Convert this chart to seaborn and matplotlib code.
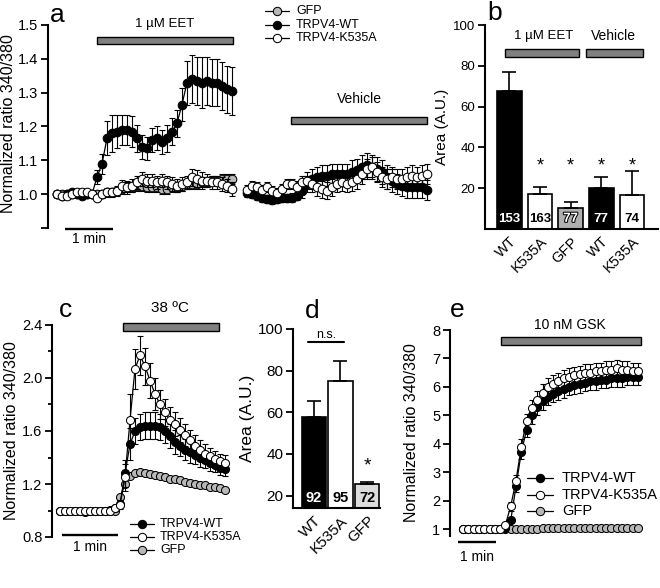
import numpy as np
import matplotlib
matplotlib.use('Agg')
import matplotlib.pyplot as plt
import seaborn as sns
from matplotlib.patches import Rectangle
import matplotlib.patheffects as pe

sns.set_style('ticks', {'axes.edgecolor': 'black', 'xtick.color': 'black', 'ytick.color': 'black',
                        'text.color': 'black', 'axes.labelcolor': 'black'})
plt.rcParams['font.family'] = ['Liberation Sans', 'DejaVu Sans']

GRAY = '#b8b8b8'

# ---------------- data ----------------
# a: 1 uM EET recording (36 frames)
a_eet_wt = [1.0, 0.995, 1.0, 1.005, 1.0, 0.995, 1.0, 1.0, 1.05, 1.09, 1.165, 1.18, 1.185, 1.19, 1.19, 1.185,
            1.165, 1.14, 1.135, 1.16, 1.165, 1.155, 1.165, 1.185, 1.21, 1.265, 1.33, 1.34, 1.335, 1.33, 1.335,
            1.33, 1.33, 1.32, 1.31, 1.305]
a_eet_wt_err = [0.006, 0.006, 0.006, 0.006, 0.006, 0.006, 0.006, 0.006, 0.02, 0.03, 0.05, 0.055, 0.05, 0.045,
                0.045, 0.045, 0.04, 0.035, 0.035, 0.035, 0.035, 0.035, 0.04, 0.04, 0.04, 0.05, 0.065, 0.07,
                0.07, 0.075, 0.07, 0.07, 0.07, 0.07, 0.07, 0.07]
a_eet_k535a = [1.0, 0.995, 0.995, 1.0, 1.005, 1.005, 1.005, 1.0, 0.99, 1.0, 1.005, 1.005, 1.01, 1.025, 1.02,
               1.025, 1.035, 1.045, 1.04, 1.04, 1.035, 1.04, 1.035, 1.03, 1.025, 1.03, 1.035, 1.05, 1.045,
               1.04, 1.04, 1.035, 1.035, 1.03, 1.025, 1.015]
a_eet_k535a_err = [0.008, 0.008, 0.008, 0.008, 0.008, 0.008, 0.008, 0.008, 0.01, 0.01, 0.012, 0.012, 0.015,
                   0.018, 0.02, 0.02, 0.02, 0.02, 0.02, 0.02, 0.02, 0.02, 0.02, 0.02, 0.02, 0.02, 0.02, 0.025,
                   0.025, 0.025, 0.02, 0.02, 0.02, 0.02, 0.02, 0.02]
a_eet_gfp = [1.0, 1.0, 1.0, 1.0, 1.0, 1.0, 1.0, 1.0, 1.0, 1.0, 1.005, 1.005, 1.01, 1.015, 1.02, 1.02, 1.025,
             1.025, 1.02, 1.02, 1.02, 1.015, 1.015, 1.02, 1.02, 1.025, 1.03, 1.03, 1.03, 1.035, 1.035, 1.04,
             1.04, 1.045, 1.045, 1.045]
a_eet_gfp_err = [0.008, 0.008, 0.008, 0.008, 0.008, 0.008, 0.008, 0.008, 0.008, 0.01, 0.01, 0.01, 0.012,
                 0.015, 0.015, 0.015, 0.015, 0.015, 0.015, 0.015, 0.015, 0.015, 0.015, 0.015, 0.015, 0.015,
                 0.015, 0.015, 0.015, 0.015, 0.015, 0.015, 0.015, 0.015, 0.015, 0.015]
# a: vehicle recording (37 frames)
a_veh_wt = [1.003, 1.0, 0.995, 0.99, 0.985, 0.982, 0.985, 0.988, 0.988, 0.99, 0.995, 1.01, 1.03, 1.045, 1.05,
            1.055, 1.055, 1.06, 1.06, 1.06, 1.06, 1.065, 1.07, 1.08, 1.086, 1.08, 1.075, 1.065, 1.05, 1.04,
            1.03, 1.025, 1.02, 1.02, 1.02, 1.02, 1.012]
a_veh_wt_err = [0.012, 0.012, 0.012, 0.012, 0.012, 0.012, 0.012, 0.012, 0.012, 0.012, 0.012, 0.02, 0.025,
                0.03, 0.03, 0.03, 0.03, 0.03, 0.03, 0.03, 0.03, 0.035, 0.035, 0.035, 0.035, 0.035, 0.035,
                0.035, 0.035, 0.035, 0.03, 0.03, 0.03, 0.03, 0.03, 0.03, 0.03]
a_veh_k535a = [1.012, 1.025, 1.02, 1.012, 1.02, 1.01, 1.003, 1.015, 1.03, 1.03, 1.02, 1.035, 1.04, 1.03, 1.02,
               1.015, 1.01, 1.02, 1.03, 1.035, 1.03, 1.035, 1.045, 1.06, 1.075, 1.08, 1.065, 1.05, 1.045,
               1.05, 1.045, 1.045, 1.05, 1.055, 1.05, 1.055, 1.06]
a_veh_k535a_err = [0.015, 0.015, 0.015, 0.015, 0.015, 0.015, 0.015, 0.015, 0.015, 0.015, 0.02, 0.02, 0.025,
                   0.025, 0.025, 0.025, 0.025, 0.025, 0.025, 0.025, 0.025, 0.025, 0.03, 0.03, 0.03, 0.03,
                   0.03, 0.03, 0.03, 0.03, 0.03, 0.03, 0.03, 0.03, 0.03, 0.03, 0.03]

# b: response area
b_labels = ['WT', 'K535A', 'GFP', 'WT', 'K535A']
b_area = [67.5, 17.0, 10.5, 20.0, 16.5]
b_err = [9.5, 3.5, 2.5, 5.5, 12.0]
b_n = ['153', '163', '77', '77', '74']
b_colors = ['black', 'white', '#b0b0b0', 'black', 'white']

# c: 38 C heat (34 frames)
c_wt = [1.0, 1.0, 1.0, 1.0, 0.995, 0.995, 1.0, 1.0, 1.0, 1.0, 1.005, 1.02, 1.05, 1.28, 1.5, 1.6, 1.63, 1.64,
        1.64, 1.64, 1.63, 1.6, 1.56, 1.52, 1.49, 1.46, 1.44, 1.42, 1.4, 1.38, 1.36, 1.34, 1.32, 1.31]
c_wt_err = [0.01, 0.01, 0.01, 0.01, 0.01, 0.01, 0.01, 0.01, 0.01, 0.01, 0.01, 0.01, 0.03, 0.1, 0.12, 0.1, 0.1,
            0.1, 0.1, 0.1, 0.1, 0.09, 0.09, 0.09, 0.08, 0.08, 0.08, 0.07, 0.07, 0.06, 0.06, 0.05, 0.05, 0.05]
c_k535a = [1.0, 1.0, 1.0, 0.995, 0.995, 0.995, 1.0, 1.0, 1.0, 1.0, 1.0, 1.02, 1.04, 1.25, 1.68, 2.07, 2.17,
           2.09, 1.98, 1.88, 1.8, 1.74, 1.68, 1.65, 1.61, 1.57, 1.53, 1.49, 1.46, 1.43, 1.41, 1.39, 1.37, 1.36]
c_k535a_err = [0.01, 0.01, 0.01, 0.01, 0.01, 0.01, 0.01, 0.01, 0.01, 0.01, 0.01, 0.01, 0.03, 0.1, 0.2, 0.15,
               0.15, 0.14, 0.13, 0.12, 0.11, 0.1, 0.1, 0.09, 0.09, 0.08, 0.08, 0.08, 0.07, 0.07, 0.06, 0.06,
               0.06, 0.06]
c_gfp = [1.0, 1.0, 0.995, 0.995, 0.995, 0.99, 0.995, 0.995, 0.995, 1.0, 1.0, 1.0, 1.1, 1.2, 1.26, 1.28, 1.29,
         1.28, 1.275, 1.27, 1.26, 1.25, 1.24, 1.235, 1.23, 1.215, 1.21, 1.2, 1.195, 1.19, 1.18, 1.175, 1.17,
         1.155]
c_gfp_err = [0.008, 0.008, 0.008, 0.008, 0.008, 0.008, 0.008, 0.008, 0.008, 0.008, 0.008, 0.008, 0.015, 0.015,
             0.015, 0.015, 0.015, 0.015, 0.015, 0.015, 0.015, 0.015, 0.015, 0.015, 0.015, 0.015, 0.015, 0.015,
             0.015, 0.015, 0.015, 0.015, 0.015, 0.015]

# d: response area at 38 C
d_labels = ['WT', 'K535A', 'GFP']
d_area = [57.5, 75.0, 25.5]
d_err = [8.0, 9.5, 1.2]
d_n = ['92', '95', '72']
d_colors = ['black', 'white', '#dcdcdc']

# e: 10 nM GSK (34 frames)
e_wt = [1.0, 1.0, 1.0, 1.0, 1.0, 1.0, 1.0, 1.0, 1.02, 1.3, 2.5, 3.7, 4.5, 5.0, 5.3, 5.5, 5.65, 5.75, 5.85,
        5.92, 6.0, 6.05, 6.1, 6.15, 6.2, 6.2, 6.25, 6.25, 6.3, 6.3, 6.3, 6.35, 6.35, 6.35]
e_wt_err = [0.02, 0.02, 0.02, 0.02, 0.02, 0.02, 0.02, 0.02, 0.03, 0.1, 0.2, 0.25, 0.25, 0.3, 0.3, 0.3, 0.3,
            0.3, 0.3, 0.3, 0.3, 0.3, 0.3, 0.3, 0.3, 0.3, 0.3, 0.3, 0.3, 0.3, 0.3, 0.3, 0.3, 0.3]
e_k535a = [1.0, 1.0, 1.0, 1.0, 1.0, 1.0, 1.0, 1.0, 1.15, 1.8, 2.7, 3.9, 4.8, 5.25, 5.55, 5.8, 6.0, 6.1, 6.2,
           6.3, 6.35, 6.4, 6.45, 6.5, 6.5, 6.55, 6.55, 6.6, 6.6, 6.65, 6.6, 6.6, 6.55, 6.55]
e_k535a_err = [0.02, 0.02, 0.02, 0.02, 0.02, 0.02, 0.02, 0.02, 0.05, 0.15, 0.2, 0.25, 0.25, 0.3, 0.3, 0.3, 0.3,
               0.3, 0.3, 0.3, 0.3, 0.3, 0.3, 0.3, 0.3, 0.3, 0.3, 0.3, 0.3, 0.3, 0.3, 0.3, 0.3, 0.3]
e_gfp = [1.0, 1.0, 1.0, 1.0, 1.0, 1.0, 1.0, 1.0, 1.0, 1.0, 1.0, 1.01, 1.01, 1.01, 1.01, 1.02, 1.02, 1.02,
         1.02, 1.02, 1.03, 1.03, 1.03, 1.03, 1.03, 1.04, 1.04, 1.04, 1.04, 1.04, 1.05, 1.05, 1.05, 1.05]
e_gfp_err = [0.02, 0.02, 0.02, 0.02, 0.02, 0.02, 0.02, 0.02, 0.02, 0.02, 0.02, 0.02, 0.02, 0.02, 0.02, 0.02,
             0.02, 0.02, 0.02, 0.02, 0.02, 0.02, 0.02, 0.02, 0.02, 0.02, 0.02, 0.02, 0.02, 0.02, 0.02, 0.02,
             0.02, 0.02]

# frame intervals (s)
dt_a, dt_c, dt_e = 6.25, 5.4, 8.4

# ---------------- figure ----------------
W, H = 660, 588
fig = plt.figure(figsize=(W / 100, H / 100), dpi=100)


def add_ax(l, t, r, b):
    return fig.add_axes([l / W, 1 - b / H, (r - l) / W, (b - t) / H])


def trace_axes(ax, fs):
    for s in ['top', 'right', 'bottom']:
        ax.spines[s].set_visible(False)
    ax.spines['left'].set_linewidth(1.5)
    ax.tick_params(axis='y', which='both', direction='out', width=1.3, labelsize=fs, pad=2)
    ax.tick_params(axis='y', which='major', length=5)
    ax.tick_params(axis='y', which='minor', length=3)
    ax.set_xticks([])
    ax.set_xlabel('')


def trace(ax, t, y, err, face, z, ms=5.8):
    ax.errorbar(t, y, yerr=err, fmt='none', ecolor='black', elinewidth=0.8, capsize=2.4, capthick=0.8, zorder=z)
    sns.lineplot(x=t, y=y, ax=ax, color='black', lw=0.9, marker='o', markersize=ms, markerfacecolor=face,
                 markeredgecolor='black', markeredgewidth=0.75, zorder=z + 0.5)


def stim_bar(ax, x0, x1, y0, y1):
    ax.add_patch(Rectangle((x0, y0), x1 - x0, y1 - y0, facecolor='#808080', edgecolor='black', lw=1.0,
                           clip_on=False, zorder=5))


def scale_bar(ax, x0, y, ytxt):
    ax.plot([x0, x0 + 60], [y, y], color='black', lw=1.7, clip_on=False, solid_capstyle='butt')
    ax.text(x0 + 30, ytxt, '1 min', ha='center', va='center', fontsize=10)


# ----- panel a -----
ax = add_ax(48, 25, 440, 228)
t_eet = np.arange(len(a_eet_wt)) * dt_a
t_veh = 237.5 + np.arange(len(a_veh_wt)) * dt_a
trace(ax, t_eet, a_eet_gfp, a_eet_gfp_err, GRAY, 2, 6.2)
trace(ax, t_eet, a_eet_wt, a_eet_wt_err, 'black', 3, 6.2)
trace(ax, t_eet, a_eet_k535a, a_eet_k535a_err, 'white', 4, 6.2)
trace(ax, t_veh, a_veh_wt, a_veh_wt_err, 'black', 3, 6.2)
trace(ax, t_veh, a_veh_k535a, a_veh_k535a_err, 'white', 4, 6.2)
ax.set_xlim(-11.25, 478.75)
ax.set_ylim(0.9, 1.5)
ax.set_yticks([0.9, 1.0, 1.1, 1.2, 1.3, 1.4, 1.5])
ax.set_yticklabels(['', '1.0', '1.1', '1.2', '1.3', '1.4', '1.5'])
trace_axes(ax, 10.5)
ax.set_ylabel('')
stim_bar(ax, 50, 220, 1.444, 1.464)
ax.text(135, 1.503, '1 \u00b5M EET', ha='center', va='center', fontsize=9.5)
stim_bar(ax, 292.5, 462.5, 1.207, 1.228)
ax.text(377.5, 1.281, 'Vehicle', ha='center', va='center', fontsize=10)
scale_bar(ax, 10, 0.8964, 0.867)

# ----- panel b -----
axb = add_ax(485, 25, 658, 229)
b_keys = [f'{g}{i}' for i, g in enumerate(b_labels)]
sns.barplot(x=b_keys, y=b_area, hue=b_keys, palette=b_colors, legend=False, width=0.8, saturation=1,
            edgecolor='black', linewidth=1.2, ax=axb)
axb.errorbar(range(len(b_area)), b_area, yerr=[np.zeros(len(b_err)), b_err], fmt='none', ecolor='black',
             elinewidth=1.2, capsize=5, capthick=1.2, zorder=4)
for i, n in enumerate(b_n):
    col = 'white' if b_colors[i] != 'white' else 'black'
    txt = axb.text(i, 5, n, ha='center', va='center', color=col, fontsize=9.5, fontweight='bold', zorder=6)
    if b_colors[i] == '#b0b0b0':
        txt.set_path_effects([pe.withStroke(linewidth=1.5, foreground='black')])
for i in range(1, len(b_area)):
    axb.text(i, 31, '*', ha='center', va='center', fontsize=13)
axb.set_xlim(-0.8, 4.85)
axb.set_ylim(0, 100)
axb.set_yticks([20, 40, 60, 80, 100])
axb.set_xticks(range(len(b_labels)))
axb.set_xticklabels(b_labels, rotation=45, ha='right', rotation_mode='anchor', fontsize=10.5)
axb.tick_params(axis='x', length=0, pad=4)
axb.tick_params(axis='y', direction='out', length=5, width=1.3, labelsize=9.5, pad=2)
for s in ['top', 'right']:
    axb.spines[s].set_visible(False)
for s in ['left', 'bottom']:
    axb.spines[s].set_linewidth(1.5)
axb.set_ylabel('Area (A.U.)', fontsize=11)
axb.yaxis.set_label_coords(-0.21, 0.5)
stim_bar(axb, -0.15, 2.26, 84.4, 88.2)
stim_bar(axb, 2.51, 4.37, 84.4, 88.2)
axb.text(1.1, 94.6, '1 \u00b5M EET', ha='center', va='center', fontsize=9.5)
axb.text(3.38, 94.6, 'Vehicle', ha='center', va='center', fontsize=10)

# ----- panel c -----
axc = add_ax(52, 325, 235, 537)
t_c = np.arange(len(c_wt)) * dt_c
trace(axc, t_c, c_gfp, c_gfp_err, GRAY, 2)
trace(axc, t_c, c_wt, c_wt_err, 'black', 3)
trace(axc, t_c, c_k535a, c_k535a_err, 'white', 4)
axc.set_xlim(-8.64, 189)
axc.set_ylim(0.8, 2.4)
axc.set_yticks([0.8, 1.2, 1.6, 2.0, 2.4])
axc.set_yticks([1.0, 1.4, 1.8, 2.2], minor=True)
axc.set_yticklabels(['0.8', '1.2', '1.6', '2.0', '2.4'])
trace_axes(axc, 10.5)
axc.set_ylabel('')
stim_bar(axc, 68.0, 171.7, 2.355, 2.415)
axc.text(118.8, 2.528, '38 \u00baC', ha='center', va='center', fontsize=11)
scale_bar(axc, 2.16, 0.815, 0.725)

# ----- panel d -----
axd = add_ax(293, 329, 380, 508)
d_keys = [f'{g}{i}' for i, g in enumerate(d_labels)]
sns.barplot(x=d_keys, y=d_area, hue=d_keys, palette=d_colors, legend=False, width=0.93, saturation=1,
            edgecolor='black', linewidth=1.2, ax=axd)
axd.errorbar(range(len(d_area)), d_area, yerr=[np.zeros(len(d_err)), d_err], fmt='none', ecolor='black',
             elinewidth=1.2, capsize=5, capthick=1.2, zorder=4)
for i, n in enumerate(d_n):
    col = 'white' if d_colors[i] == 'black' else 'black'
    axd.text(i, 19, n, ha='center', va='center', color=col, fontsize=10.5, fontweight='bold', zorder=6)
axd.text(2, 34, '*', ha='center', va='center', fontsize=14)
axd.plot([-0.23, 1.13], [93.6, 93.6], color='black', lw=1.5)
axd.text(0.45, 97.2, 'n.s.', ha='center', va='center', fontsize=9)
axd.set_xlim(-0.79, 2.49)
axd.set_ylim(14, 100)
axd.set_yticks([20, 40, 60, 80, 100])
axd.set_xticks(range(len(d_labels)))
axd.set_xticklabels(d_labels, rotation=45, ha='right', rotation_mode='anchor', fontsize=11)
axd.tick_params(axis='x', length=0, pad=4)
axd.tick_params(axis='y', direction='out', length=5, width=1.3, labelsize=11, pad=2)
for s in ['top', 'right']:
    axd.spines[s].set_visible(False)
for s in ['left', 'bottom']:
    axd.spines[s].set_linewidth(1.5)
axd.set_ylabel('Area (A.U.)', fontsize=12.5)
axd.yaxis.set_label_coords(-0.44, 0.5)

# ----- panel e -----
axe = add_ax(450, 330, 645, 536)
t_e = np.arange(len(e_wt)) * dt_e
trace(axe, t_e, e_gfp, e_gfp_err, GRAY, 2)
trace(axe, t_e, e_wt, e_wt_err, 'black', 3)
trace(axe, t_e, e_k535a, e_k535a_err, 'white', 4)
axe.set_xlim(-20.6, 288.4)
axe.set_ylim(0.754, 8)
axe.set_yticks([1, 2, 3, 4, 5, 6, 7, 8])
trace_axes(axe, 10.5)
axe.set_ylabel('')
stim_bar(axe, 60.2, 282, 7.473, 7.754)
axe.text(169.6, 8.176, '10 nM GSK', ha='center', va='center', fontsize=10)
scale_bar(axe, -7.9, 0.543, 0.015)

# ----- figure-level text and legends (pixel coordinates) -----
ov = fig.add_axes([0, 0, 1, 1])
ov.set_xlim(0, W)
ov.set_ylim(H, 0)
ov.axis('off')
ov.patch.set_alpha(0)

for x, y, s in [(57, 15, 'a'), (495, 13, 'b'), (65, 310, 'c'), (312, 311, 'd'), (457, 310, 'e')]:
    ov.text(x, y, s, ha='center', va='center', fontsize=19)
for x, y in [(9, 124), (12, 431), (412, 433)]:
    ov.text(x, y, 'Normalized ratio 340/380', rotation=90, ha='center', va='center', fontsize=11.5)


def legend_rows(x0, x1, xt, ys, entries, fs):
    for y, (lab, face) in zip(ys, entries):
        ov.plot([x0, x1], [y, y], color='black', lw=0.9)
        ov.plot([(x0 + x1) / 2], [y], marker='o', ms=6, mfc=face, mec='black', mew=0.75)
        ov.text(xt, y, lab, ha='left', va='center', fontsize=fs)


legend_rows(265, 289, 296, [11, 25, 38], [('GFP', GRAY), ('TRPV4-WT', 'black'), ('TRPV4-K535A', 'white')], 9)
legend_rows(130, 154, 160, [524, 537, 550], [('TRPV4-WT', 'black'), ('TRPV4-K535A', 'white'), ('GFP', GRAY)], 9)
legend_rows(527, 553, 562, [478, 495, 511], [('TRPV4-WT', 'black'), ('TRPV4-K535A', 'white'), ('GFP', GRAY)], 10.5)

fig.savefig('out.png', dpi=100)
